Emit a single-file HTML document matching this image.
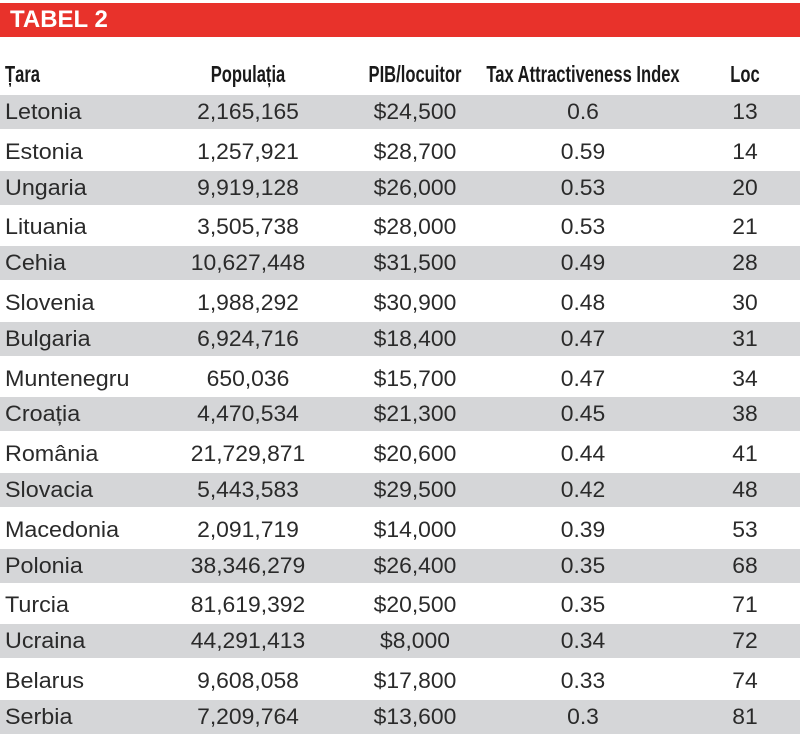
<!DOCTYPE html>
<html><head><meta charset="utf-8"><style>
body{margin:0;width:800px;height:739px;background:#fff;position:relative;overflow:hidden;font-family:"Liberation Sans",sans-serif;color:#2a2a2a}
.bar{position:absolute;left:0;top:3px;width:800px;height:34px;background:#e8322b}
.bar span{position:absolute;left:10px;top:3px;color:#fff;font-weight:bold;font-size:24px}
.h{position:absolute;top:61px;font-weight:bold;font-size:23px;white-space:nowrap;color:#1a1a1a}
.row{position:absolute;left:0;width:800px}
.g{background:#d5d6d8}
.c{position:absolute;font-size:22px;white-space:nowrap;transform:translateX(-50%) scaleX(1.04);line-height:24px}
.l{position:absolute;left:5px;font-size:22px;line-height:24px;transform:scaleX(1.06);transform-origin:left}
</style></head><body>
<div class="bar"><span>TABEL 2</span></div>
<div class="h" style="left:5px;transform:scaleX(0.72);transform-origin:left">Țara</div>
<div class="h" style="left:248px;transform:translateX(-50%) scaleX(0.72)">Populația</div>
<div class="h" style="left:415px;transform:translateX(-50%) scaleX(0.72)">PIB/locuitor</div>
<div class="h" style="left:583px;transform:translateX(-50%) scaleX(0.72)">Tax Attractiveness Index</div>
<div class="h" style="left:745px;transform:translateX(-50%) scaleX(0.72)">Loc</div>
<div id="t"></div>
<script>
var d=[["Letonia","2,165,165","$24,500","0.6","13"],["Estonia","1,257,921","$28,700","0.59","14"],["Ungaria","9,919,128","$26,000","0.53","20"],["Lituania","3,505,738","$28,000","0.53","21"],["Cehia","10,627,448","$31,500","0.49","28"],["Slovenia","1,988,292","$30,900","0.48","30"],["Bulgaria","6,924,716","$18,400","0.47","31"],["Muntenegru","650,036","$15,700","0.47","34"],["Croația","4,470,534","$21,300","0.45","38"],["România","21,729,871","$20,600","0.44","41"],["Slovacia","5,443,583","$29,500","0.42","48"],["Macedonia","2,091,719","$14,000","0.39","53"],["Polonia","38,346,279","$26,400","0.35","68"],["Turcia","81,619,392","$20,500","0.35","71"],["Ucraina","44,291,413","$8,000","0.34","72"],["Belarus","9,608,058","$17,800","0.33","74"],["Serbia","7,209,764","$13,600","0.3","81"]];
var h="",xs=[248,415,583,745];
d.forEach(function(r,i){var top=95+i*37.8;var gray=i%2==0;var ht=gray?34:42;
h+='<div class="row'+(gray?' g':'')+'" style="top:'+top+'px;height:'+ht+'px"></div>';
var cy=gray?top+17:top+19;var ty=cy-12;
h+='<div class="l" style="top:'+ty+'px">'+r[0]+'</div>';
for(var k=1;k<5;k++)h+='<div class="c" style="top:'+ty+'px;left:'+xs[k-1]+'px">'+r[k]+'</div>';});
document.getElementById("t").innerHTML=h;
</script>
</body></html>
